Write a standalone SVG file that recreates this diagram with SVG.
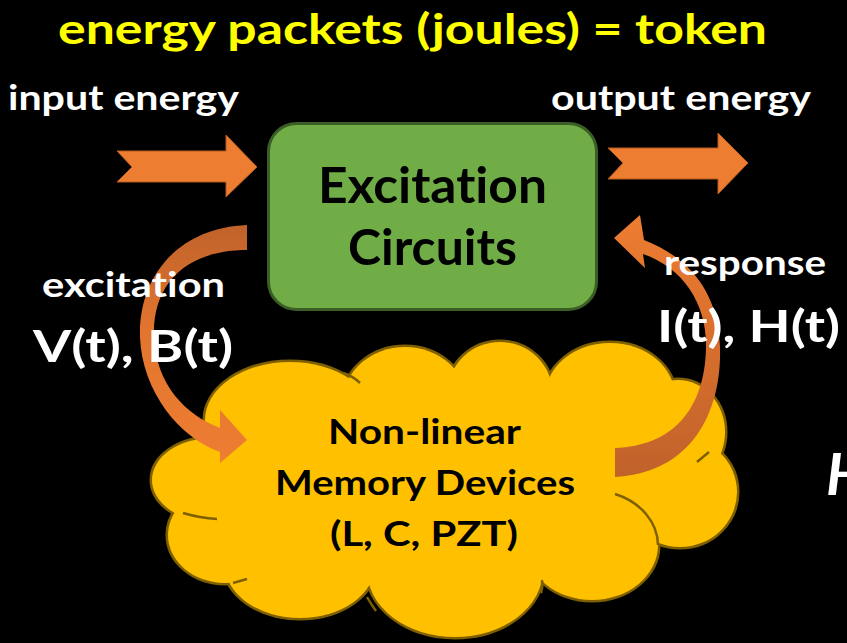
<svg xmlns="http://www.w3.org/2000/svg" width="847" height="643" viewBox="0 0 847 643">
<defs>
<style>
.t{font-family:Lato,"Open Sans","Liberation Sans",sans-serif;font-weight:bold;font-variant-ligatures:none}
.w{fill:#FFFFFF}
.k{fill:#000000}
.arr{fill:#ED7D31;stroke:#B35A1F;stroke-width:1}
.lobe{fill:#FFC000;stroke:#7F6000;stroke-width:5}
.lobef{fill:#FFC000}
.inner{fill:none;stroke:#7F6000;stroke-width:2.5}
</style>
<linearGradient id="gL" x1="0" y1="0" x2="0" y2="1">
<stop offset="0" stop-color="#C0622B"/>
<stop offset="0.45" stop-color="#E2752F"/>
<stop offset="1" stop-color="#ED7D31"/>
</linearGradient>
<linearGradient id="gR" x1="0" y1="0" x2="0" y2="1">
<stop offset="0" stop-color="#ED7D31"/>
<stop offset="0.5" stop-color="#D86E2D"/>
<stop offset="1" stop-color="#C0622B"/>
</linearGradient>
</defs>
<rect width="847" height="643" fill="#000000"/>

<text class="t" x="58" y="44" font-size="42" fill="#FFFF00" textLength="709" lengthAdjust="spacingAndGlyphs">energy packets (joules) = token</text>

<g id="input-energy">
<text class="t w" x="8" y="110" font-size="34" textLength="231" lengthAdjust="spacingAndGlyphs">input energy</text>
<polygon class="arr" points="117,151 226,151 226,135 257,167 226,197 226,182 117,182 132,167"/>
</g>

<g id="output-energy">
<text class="t w" x="551" y="110" font-size="34" textLength="260" lengthAdjust="spacingAndGlyphs">output energy</text>
<polygon class="arr" points="608,148 718,148 718,133 748,163 718,194 718,179 608,179 623,163"/>
</g>

<g id="excitation-circuits">
<rect x="268.5" y="123.5" width="328" height="186" rx="28" fill="#70AD47" stroke="#3B5E27" stroke-width="3"/>
<text class="t k" x="318" y="203" font-size="50" textLength="229" lengthAdjust="spacingAndGlyphs">Excitation</text>
<text class="t k" x="348" y="265" font-size="50" textLength="169" lengthAdjust="spacingAndGlyphs">Circuits</text>
</g>

<g id="memory-devices">
<g>
<ellipse class="lobe" cx="290" cy="420" rx="85" ry="58"/>
<ellipse class="lobe" cx="405" cy="402" rx="62" ry="55"/>
<ellipse class="lobe" cx="500" cy="392" rx="52" ry="50"/>
<ellipse class="lobe" cx="610" cy="397" rx="65" ry="54"/>
<ellipse class="lobe" cx="678" cy="432" rx="47" ry="52"/>
<ellipse class="lobe" cx="680" cy="492" rx="57" ry="55"/>
<ellipse class="lobe" cx="592" cy="545" rx="66" ry="55"/>
<ellipse class="lobe" cx="455" cy="570" rx="88" ry="67"/>
<ellipse class="lobe" cx="300" cy="565" rx="75" ry="53"/>
<ellipse class="lobe" cx="225" cy="535" rx="57" ry="48"/>
<ellipse class="lobe" cx="212" cy="480" rx="60" ry="42"/>
</g>
<g>
<ellipse class="lobef" cx="290" cy="420" rx="85" ry="58"/>
<ellipse class="lobef" cx="405" cy="402" rx="62" ry="55"/>
<ellipse class="lobef" cx="500" cy="392" rx="52" ry="50"/>
<ellipse class="lobef" cx="610" cy="397" rx="65" ry="54"/>
<ellipse class="lobef" cx="678" cy="432" rx="47" ry="52"/>
<ellipse class="lobef" cx="680" cy="492" rx="57" ry="55"/>
<ellipse class="lobef" cx="592" cy="545" rx="66" ry="55"/>
<ellipse class="lobef" cx="455" cy="570" rx="88" ry="67"/>
<ellipse class="lobef" cx="300" cy="565" rx="75" ry="53"/>
<ellipse class="lobef" cx="225" cy="535" rx="57" ry="48"/>
<ellipse class="lobef" cx="212" cy="480" rx="60" ry="42"/>
<ellipse class="lobef" cx="440" cy="480" rx="235" ry="100"/>
</g>
<path class="inner" d="M343,373 Q353,376 360,383"/>
<path class="inner" d="M697,462 Q703,457 709,452"/>
<path class="inner" d="M615,494 A66,55 0 0 1 658,545"/>
<path class="inner" d="M183,513 Q200,518 217,519"/>
<path class="inner" d="M233,583 Q240,581 247,579"/>
<path class="inner" d="M367,597 Q371,604 376,611"/>
<path class="inner" d="M542,580 Q543,587 541,593"/>
<text class="t k" x="328" y="444" font-size="35" textLength="193" lengthAdjust="spacingAndGlyphs">Non-linear</text>
<text class="t k" x="275" y="495" font-size="35" textLength="300" lengthAdjust="spacingAndGlyphs">Memory Devices</text>
<text class="t k" x="330" y="546" font-size="35" textLength="188" lengthAdjust="spacingAndGlyphs">(L, C, PZT)</text>
</g>

<g id="connectors">
<path id="excitation-arrow" fill="url(#gL)" d="M247,225 C175,228 138,280 140,337 C142,392 180,438 220,452 L220,463 L247,440 L220,410 L220,428 C186,415 156,385 154,337 C152,285 185,250 247,250 Z"/>
<path id="response-arrow" fill="url(#gR)" d="M615,477 C685,474 722,420 720,347 C718,292 690,258 644,240 L640,215 L614,238 L645,268 L643,254 C684,268 707,305 706,347 C705,410 672,446 615,448 Z"/>
</g>

<g id="labels">
<text class="t w" x="42" y="297" font-size="35" textLength="183" lengthAdjust="spacingAndGlyphs">excitation</text>
<text class="t w" x="33" y="362" font-size="44" textLength="200" lengthAdjust="spacingAndGlyphs">V(t), B(t)</text>
<text class="t w" x="664" y="275" font-size="35" textLength="162" lengthAdjust="spacingAndGlyphs">response</text>
<text class="t w" x="657" y="342" font-size="44" textLength="183" lengthAdjust="spacingAndGlyphs">I(t), H(t)</text>
<text class="t w" x="826" y="495" font-size="58" font-style="italic">H</text>
</g>
</svg>
